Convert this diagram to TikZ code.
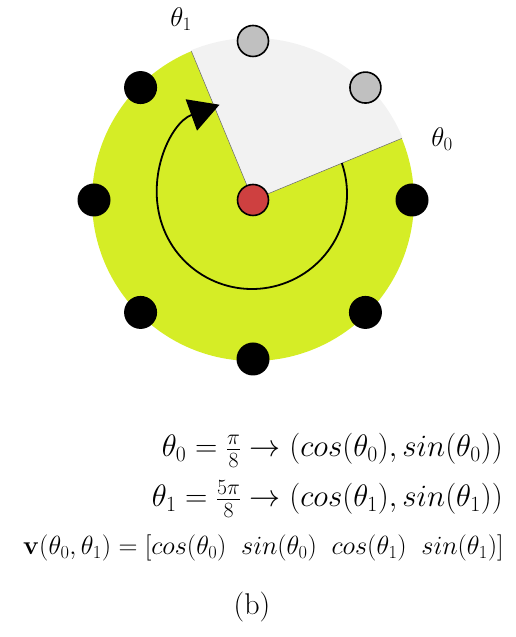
\RequirePackage{fix-cm}
\documentclass[tikz,border=0pt]{standalone}
\usepackage{amsmath}
\usetikzlibrary{arrows.meta,calc}
\definecolor{limefill}{RGB}{213,237,38}
\definecolor{sectorgray}{RGB}{242,242,242}
\definecolor{dotgray}{RGB}{192,192,192}
\definecolor{reddot}{RGB}{206,64,64}
\tikzset{
  blackdot/.style={circle,fill=black,inner sep=0pt,minimum size=33pt},
  graydot/.style={circle,fill=dotgray,draw=black,line width=1.6pt,inner sep=0pt,minimum size=31pt},
  centerdot/.style={circle,fill=reddot,draw=black,line width=1.6pt,inner sep=0pt,minimum size=31pt},
  eqtext/.style={inner sep=0pt,font=\fontsize{31}{37}\selectfont},
  eqsmall/.style={inner sep=0pt,font=\fontsize{26.3}{32}\selectfont},
  captext/.style={inner sep=0pt,font=\fontsize{30}{36}\selectfont},
  anglabel/.style={inner sep=0pt,font=\fontsize{27}{32}\selectfont},
  edge/.style={draw=black!60,line width=0.5pt}
}
\begin{document}
\begin{tikzpicture}[x=1pt,y=1pt]
\useasboundingbox (0,0) rectangle (516,637);
\coordinate (C) at (253,437);
\coordinate (Carc) at (252,443);
\fill[limefill] (C) circle (161);
\fill[sectorgray] (C) -- ++(22.5:162) arc (22.5:112.5:162) -- cycle;
\coordinate (e0) at ([shift={(22.5:161)}]C);
\coordinate (e1) at ([shift={(112.5:161)}]C);
\draw[edge] (C) -- (e0);
\draw[edge] (C) -- (e1);
\foreach \a in {0,135,180,225,270,315}
  \node[blackdot] (d\a) at ([shift={(\a:159)}]C) {};
\foreach \a in {45,90}
  \node[graydot] (g\a) at ([shift={(\a:159)}]C) {};
\node[centerdot] (ctr) at (C) {};
\draw[line width=1.8pt,-{Triangle[length=30pt,width=33pt]}]
  ([shift={(19:95)}]Carc) arc (19:-250:95);
\node[anglabel] (t1) at (181,618) {$\theta_1$};
\node[anglabel] (t0) at (442,498) {$\theta_0$};
\node[eqtext,anchor=base east] (eq1) at (503,180)
  {$\theta_0=\frac{\pi}{8}\rightarrow(cos(\theta_0),sin(\theta_0))$};
\node[eqtext,anchor=base east] (eq2) at (503,130)
  {$\theta_1=\frac{5\pi}{8}\rightarrow(cos(\theta_1),sin(\theta_1))$};
\node[eqsmall,anchor=base east] (eq3) at (504,82)
  {$\mathbf{v}(\theta_0,\theta_1)=[cos(\theta_0)\;\;sin(\theta_0)\;\;cos(\theta_1)\;\;sin(\theta_1)]$};
\node[captext,anchor=base] (cap) at (252,23) {(b)};
\end{tikzpicture}
\end{document}
